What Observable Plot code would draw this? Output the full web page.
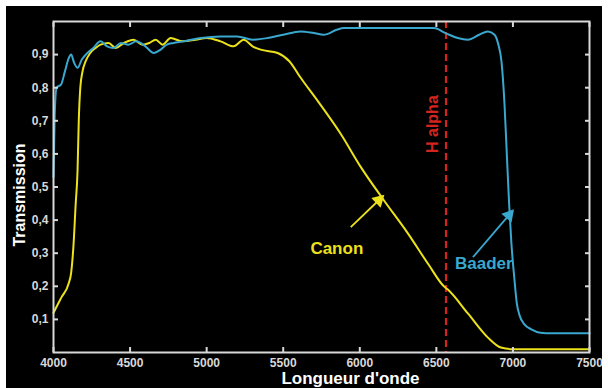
<!DOCTYPE html>
<html><head><meta charset="utf-8">
<script src="https://cdn.jsdelivr.net/npm/d3@7"></script>
<script src="https://cdn.jsdelivr.net/npm/@observablehq/plot@0.6"></script>
<style>
html,body{margin:0;padding:0;background:#fff;}
#chart{position:absolute;left:6px;top:6px;}
</style></head><body><div id="chart"></div>
<script>
// Baader filter transmission
const baaderWavelength = [4000,4008,4020,4050,4075,4100,4115,4135,4157,4185,4222,4260,4307,4350,4392,4440,4490,4540,4600,4654,4700,4740,4784,4850,4900,4961,5091,5200,5300,5399,5500,5614,5700,5765,5850,5895,6000,6268,6484,6560,6640,6706,6780,6837,6880,6905,6925,6945,6960,6975,6990,7010,7025,7045,7075,7120,7180,7250,7500];
const baaderTransmission = [0.53,0.72,0.80,0.81,0.85,0.89,0.90,0.875,0.86,0.885,0.905,0.92,0.94,0.925,0.92,0.935,0.93,0.94,0.925,0.905,0.915,0.93,0.935,0.94,0.945,0.95,0.955,0.955,0.945,0.95,0.96,0.97,0.965,0.96,0.975,0.98,0.98,0.98,0.98,0.965,0.95,0.945,0.96,0.97,0.96,0.93,0.88,0.75,0.6,0.45,0.33,0.22,0.15,0.11,0.085,0.07,0.06,0.058,0.058];
// Canon filter transmission
const canonWavelength = [4000,4050,4100,4115,4130,4145,4157,4165,4175,4190,4210,4240,4275,4307,4360,4405,4460,4523,4582,4625,4667,4712,4765,4843,4928,5000,5091,5176,5242,5300,5353,5464,5540,5614,5725,5876,6007,6157,6314,6450,6549,6575,6706,6837,6922,7000,7500];
const canonTransmission = [0.12,0.165,0.21,0.24,0.32,0.45,0.55,0.70,0.80,0.85,0.88,0.905,0.92,0.93,0.935,0.92,0.935,0.945,0.93,0.935,0.945,0.93,0.95,0.94,0.945,0.95,0.94,0.925,0.945,0.925,0.915,0.905,0.88,0.83,0.76,0.66,0.56,0.46,0.36,0.265,0.2,0.19,0.118,0.045,0.015,0.01,0.01];

const xTicks = [4000,4500,5000,5500,6000,6500,7000,7500];
const yTicks = [0.1,0.2,0.3,0.4,0.5,0.6,0.7,0.8,0.9];
const hAlpha = 6563;
const hAlphaLabel = "H alpha";
const seriesNames = ["Canon","Baader"];
const seriesColors = ["#ece21c","#3aa7cf"];
// annotation anchors (data units)
const labelWavelength = [5850,6810];
const labelTransmission = [0.315,0.27];
const arrowFromWavelength = [5941,6739];
const arrowFromTransmission = [0.379,0.288];
const arrowToWavelength = [6124,6974];
const arrowToTransmission = [0.46,0.415];
const hAlphaLabelTransmission = 0.69;

const W = 596, H = 382, ML = 47, MT = 15, MR = 13, MB = 36;
const kx = (W - ML - MR) / 3500, ky = (H - MT - MB) / 1;

const canon = canonWavelength.map((x,i)=>({x, y: canonTransmission[i]}));
const baader = baaderWavelength.map((x,i)=>({x, y: baaderTransmission[i]}));
const notes = seriesNames.map((name,i)=>{
  const x1 = arrowFromWavelength[i], y1 = arrowFromTransmission[i];
  const x2 = arrowToWavelength[i], y2 = arrowToTransmission[i];
  const ang = Math.atan2((x2 - x1) * kx, (y2 - y1) * ky) * 180 / Math.PI;
  return {name, color: seriesColors[i], lx: labelWavelength[i], ly: labelTransmission[i], x1, y1, x2, y2, ang};
});
const fmt = d => d.toFixed(1).replace(".", ",");
const axisColor = "#d8d8d8";

const chart = Plot.plot({
  width: W, height: H,
  marginLeft: ML, marginTop: MT, marginRight: MR, marginBottom: MB,
  style: {background: "#000", color: axisColor, fontFamily: "'Liberation Sans', Arial, sans-serif"},
  x: {domain: [4000, 7500]},
  y: {domain: [0, 1]},
  marks: [
    Plot.ruleX([hAlpha], {stroke: "#d3241f", strokeWidth: 2.2, strokeDasharray: "7,4"}),
    Plot.text([hAlphaLabel], {x: hAlpha, y: hAlphaLabelTransmission, text: d => d, rotate: -90, dx: -13, textAnchor: "middle", lineAnchor: "middle", fill: "#d3241f", fontSize: 16, fontWeight: "bold"}),
    Plot.line(canon, {x: "x", y: "y", stroke: seriesColors[0], strokeWidth: 2, curve: "monotone-x"}),
    Plot.line(baader, {x: "x", y: "y", stroke: seriesColors[1], strokeWidth: 2, curve: "monotone-x"}),
    Plot.link(notes, {x1: "x1", y1: "y1", x2: "x2", y2: "y2", stroke: "color", strokeWidth: 1.8}),
    Plot.dot(notes, {x: "x2", y: "y2", symbol: "triangle", r: 5, rotate: "ang", fill: "color", stroke: null}),
    Plot.text(notes, {x: "lx", y: "ly", text: "name", fill: "color", fontSize: 17, fontWeight: "bold"}),
    Plot.frame({stroke: axisColor, strokeWidth: 2}),
    Plot.axisY(yTicks, {anchor: "left", tickSize: -5, tickPadding: 10, tickFormat: fmt, fontSize: 12, fontWeight: "bold", strokeWidth: 2, label: null}),
    Plot.axisY(yTicks, {anchor: "right", tickSize: -5, text: null, strokeWidth: 2, label: null}),
    Plot.axisX(xTicks, {anchor: "bottom", tickSize: -5, tickPadding: 11, tickFormat: d => String(d), fontSize: 12, fontWeight: "bold", strokeWidth: 2, label: null}),
    Plot.axisX(xTicks, {anchor: "top", tickSize: -5, text: null, strokeWidth: 2, label: null}),
    Plot.text(["Transmission"], {frameAnchor: "left", text: d => d, rotate: -90, dx: -34, dy: 8, textAnchor: "middle", lineAnchor: "middle", fill: "#fff", fontSize: 16, fontWeight: "bold"}),
    Plot.text(["Longueur d'onde"], {frameAnchor: "bottom", text: d => d, dx: 29, dy: 26, textAnchor: "middle", lineAnchor: "middle", fill: "#fff", fontSize: 17, fontWeight: "bold"})
  ]
});
document.getElementById("chart").appendChild(chart);
</script></body></html>
